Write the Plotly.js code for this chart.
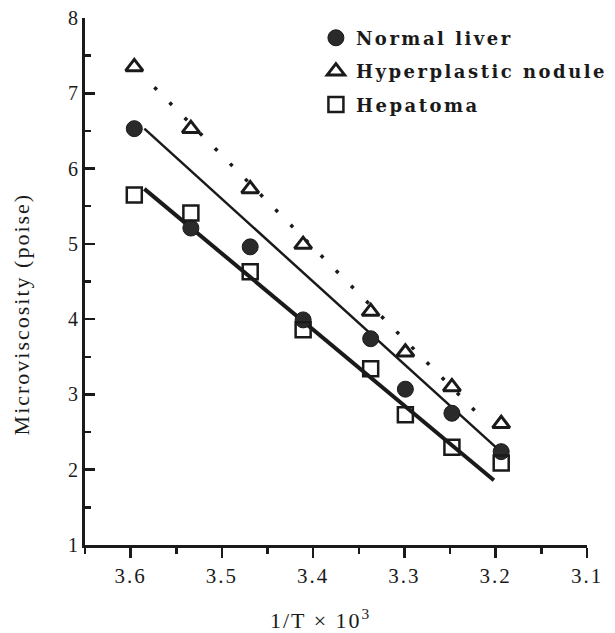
<!DOCTYPE html>
<html>
<head>
<meta charset="utf-8">
<script src="https://cdn.plot.ly/plotly-3.0.1.min.js"></script>
<style>
  html, body { margin: 0; padding: 0; background: #fff; }
  #chart { width: 615px; height: 633px; }
  .legendtext { letter-spacing: 2.5px; }
  .xtick text { letter-spacing: 2px; }
  .annotation-text { letter-spacing: 2px; }
</style>
</head>
<body>
<div id="chart"></div>
<script>
// 1/T x 10^3 values (shared by all three series)
const xValues = [3.596, 3.534, 3.469, 3.411, 3.337, 3.299, 3.248, 3.194];

// Microviscosity (poise)
const normalLiver = [6.53, 5.21, 4.96, 3.99, 3.74, 3.07, 2.75, 2.24];
const hyperplasticNodule = [7.35, 6.53, 5.73, 4.99, 4.10, 3.56, 3.10, 2.61];
const hepatoma = [5.65, 5.41, 4.63, 3.86, 3.34, 2.73, 2.30, 2.09];

// Regression line end points
const fitNormalX = [3.585, 3.200];
const fitNormalY = [6.53, 2.30];
const fitHyperX = [3.574, 3.216];
const fitHyperY = [7.08, 2.70];
const fitHepatomaX = [3.585, 3.202];
const fitHepatomaY = [5.73, 1.86];

const seriesNames = ["Normal liver", "Hyperplastic nodule", "Hepatoma"];

const xTickVals = [3.6, 3.5, 3.4, 3.3, 3.2, 3.1];
const yTickVals = [1, 2, 3, 4, 5, 6, 7, 8];

const ink = "#1a1a1a";

const traces = [
  { x: fitNormalX, y: fitNormalY, mode: "lines", line: { color: ink, width: 2.5 }, showlegend: false, hoverinfo: "skip" },
  { x: fitHyperX, y: fitHyperY, mode: "lines", line: { color: ink, width: 3.5, dash: "3.5px,18px" }, showlegend: false, hoverinfo: "skip" },
  { x: fitHepatomaX, y: fitHepatomaY, mode: "lines", line: { color: ink, width: 4 }, showlegend: false, hoverinfo: "skip" },
  { x: xValues, y: normalLiver, name: seriesNames[0], legendgroup: "a", mode: "markers",
    marker: { symbol: "circle", size: 16, color: "#2a2a2a", line: { color: ink, width: 1 } } },
  { x: xValues, y: hyperplasticNodule, name: seriesNames[1], legendgroup: "b", mode: "markers",
    marker: { symbol: "triangle-up-open", size: 15, color: ink, line: { color: ink, width: 3 } } },
  { x: xValues, y: hepatoma, name: seriesNames[2], legendgroup: "c", mode: "markers",
    marker: { symbol: "square-open", size: 15, color: ink, line: { color: ink, width: 2.5 } } }
];

const layout = {
  width: 615,
  height: 633,
  margin: { l: 85, r: 28, t: 18, b: 88, autoexpand: false },
  paper_bgcolor: "#fff",
  plot_bgcolor: "#fff",
  font: { family: "Liberation Serif, Times New Roman, serif", color: ink, size: 20 },
  showlegend: true,
  legend: {
    x: 0.46, y: 0.997, xanchor: "left", yanchor: "top",
    bgcolor: "rgba(0,0,0,0)",
    traceorder: "grouped",
    tracegroupgap: 7,
    font: { family: "DejaVu Serif, serif", size: 18, weight: "bold", color: ink }
  },
  xaxis: {
    range: [3.65, 3.1],
    tickvals: xTickVals,
    ticktext: xTickVals.map(v => v.toFixed(1)),
    showgrid: false, zeroline: false,
    showline: true, linecolor: ink, linewidth: 3,
    ticks: "outside", ticklen: 10, tickwidth: 2.5, tickcolor: ink,
    tickfont: { family: "Liberation Serif, serif", size: 21, color: ink },
    minor: { dtick: 0.05, tick0: 3.05, ticks: "outside", ticklen: 6, tickwidth: 2.5, tickcolor: ink, showgrid: false }
  },
  yaxis: {
    range: [1, 8],
    tickvals: yTickVals,
    showgrid: false, zeroline: false,
    showline: true, linecolor: ink, linewidth: 3,
    ticks: "inside", ticklen: 10, tickwidth: 2.5, tickcolor: ink,
    tickfont: { family: "Liberation Serif, serif", size: 20, color: ink },
    minor: { dtick: 0.5, tick0: 0.5, ticks: "inside", ticklen: 6, tickwidth: 2.5, tickcolor: ink, showgrid: false }
  },
  annotations: [
    { text: "Microviscosity (poise)", textangle: -90, xref: "paper", yref: "paper",
      x: -0.127, y: 0.438, xanchor: "center", yanchor: "middle", showarrow: false,
      font: { family: "Liberation Serif, serif", size: 22, color: ink } },
    { text: "1/T × 10<sup>3</sup>", xref: "paper", yref: "paper",
      x: 0.470, y: -0.14, xanchor: "center", yanchor: "middle", showarrow: false,
      font: { family: "Liberation Serif, serif", size: 22, color: ink } }
  ]
};

Plotly.newPlot("chart", traces, layout, { displayModeBar: false, staticPlot: true });
</script>
</body>
</html>
